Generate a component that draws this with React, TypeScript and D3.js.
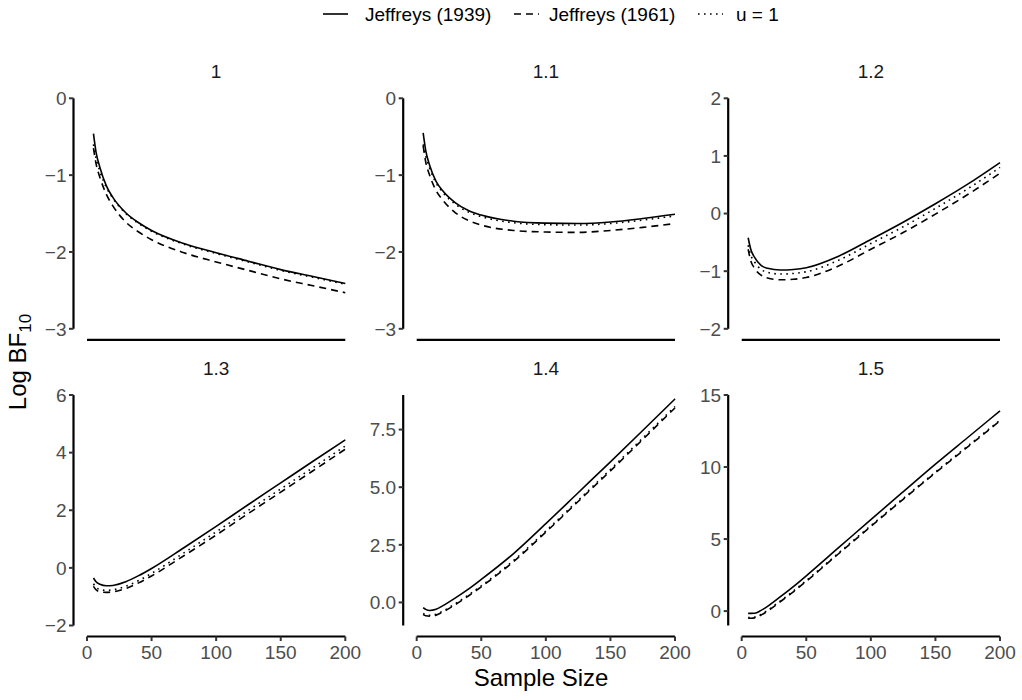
import React from 'react';
import * as d3 from 'd3';

// ---------------- data ----------------
const sampleSizes = [5, 7, 10, 15, 20, 30, 40, 50, 75, 100, 125, 150, 175, 200];
const panelLabels = ['1', '1.1', '1.2', '1.3', '1.4', '1.5'];
const seriesNames = ['Jeffreys (1939)', 'Jeffreys (1961)', 'u = 1'];

const jeffreys1939_p1 = [-0.46, -0.7, -0.9, -1.14, -1.29, -1.49, -1.62, -1.72, -1.89, -2.01, -2.12, -2.23, -2.32, -2.41];
const jeffreys1961_p1 = [-0.65, -0.85, -1.03, -1.25, -1.4, -1.61, -1.74, -1.84, -2.01, -2.13, -2.24, -2.35, -2.44, -2.53];
const u1_p1 = [-0.6, -0.78, -0.95, -1.16, -1.3, -1.5, -1.63, -1.73, -1.9, -2.02, -2.13, -2.24, -2.33, -2.42];

const jeffreys1939_p11 = [-0.45, -0.68, -0.87, -1.08, -1.2, -1.36, -1.46, -1.52, -1.6, -1.625, -1.63, -1.61, -1.565, -1.51];
const jeffreys1961_p11 = [-0.62, -0.83, -1.0, -1.2, -1.32, -1.49, -1.59, -1.65, -1.72, -1.74, -1.745, -1.72, -1.68, -1.63];
const u1_p11 = [-0.6, -0.75, -0.91, -1.1, -1.22, -1.38, -1.48, -1.54, -1.62, -1.645, -1.65, -1.63, -1.585, -1.53];

const jeffreys1939_p12 = [-0.42, -0.62, -0.76, -0.9, -0.95, -0.98, -0.97, -0.94, -0.74, -0.45, -0.15, 0.17, 0.51, 0.885];
const jeffreys1961_p12 = [-0.62, -0.82, -0.95, -1.07, -1.12, -1.15, -1.14, -1.11, -0.91, -0.62, -0.33, -0.01, 0.33, 0.7];
const u1_p12 = [-0.55, -0.72, -0.84, -0.97, -1.02, -1.05, -1.04, -1.01, -0.81, -0.52, -0.23, 0.09, 0.43, 0.8];

const jeffreys1939_p13 = [-0.35, -0.48, -0.57, -0.62, -0.61, -0.48, -0.27, -0.02, 0.7, 1.44, 2.2, 2.95, 3.7, 4.44];
const jeffreys1961_p13 = [-0.64, -0.76, -0.83, -0.85, -0.83, -0.72, -0.52, -0.28, 0.42, 1.14, 1.89, 2.63, 3.37, 4.12];
const u1_p13 = [-0.55, -0.68, -0.75, -0.78, -0.76, -0.64, -0.44, -0.19, 0.52, 1.25, 2.0, 2.74, 3.48, 4.23];

const jeffreys1939_p14 = [-0.22, -0.3, -0.35, -0.3, -0.15, 0.2, 0.58, 1.0, 2.12, 3.42, 4.76, 6.1, 7.46, 8.83];
const jeffreys1961_p14 = [-0.53, -0.58, -0.6, -0.55, -0.42, -0.09, 0.28, 0.68, 1.77, 3.05, 4.38, 5.71, 7.07, 8.44];
const u1_p14 = [-0.48, -0.54, -0.56, -0.51, -0.38, -0.05, 0.32, 0.72, 1.82, 3.1, 4.43, 5.77, 7.13, 8.5];

const jeffreys1939_p15 = [-0.16, -0.16, -0.15, 0.05, 0.33, 1.0, 1.7, 2.45, 4.4, 6.35, 8.28, 10.2, 12.05, 13.9];
const jeffreys1961_p15 = [-0.5, -0.5, -0.47, -0.28, 0.0, 0.66, 1.34, 2.07, 3.98, 5.88, 7.76, 9.6, 11.4, 13.2];
const u1_p15 = [-0.45, -0.45, -0.42, -0.23, 0.05, 0.71, 1.39, 2.12, 4.03, 5.93, 7.81, 9.65, 11.45, 13.25];

const yDomains: [number, number][] = [[-3, 0], [-3, 0], [-2, 2], [-2, 6], [-1, 9], [-1, 15]];
const yTicks = [[-3, -2, -1, 0], [-3, -2, -1, 0], [-2, -1, 0, 1, 2], [-2, 0, 2, 4, 6], [0, 2.5, 5, 7.5], [0, 5, 10, 15]];
const yTickFormats = ['d', 'd', 'd', 'd', '.1f', 'd'];
const xTicks = [0, 50, 100, 150, 200];

const panelSeries = [
  [jeffreys1939_p1, jeffreys1961_p1, u1_p1],
  [jeffreys1939_p11, jeffreys1961_p11, u1_p11],
  [jeffreys1939_p12, jeffreys1961_p12, u1_p12],
  [jeffreys1939_p13, jeffreys1961_p13, u1_p13],
  [jeffreys1939_p14, jeffreys1961_p14, u1_p14],
  [jeffreys1939_p15, jeffreys1961_p15, u1_p15],
];

// ---------------- layout ----------------
const W = 1022;
const H = 700;
const colX = [87, 416.7, 741.7];
const panelW = 258.3;
const rowY = [98.3, 395];
const panelH = 230.5;
const yAxisGap = 13.5;
const xAxisGap = 11;
const dashes = ['none', '7 5', '1.6 4.4'];
const FONT = '"Liberation Sans", Arial, Helvetica, sans-serif';
const LW = 1.6;
const SMALL = 19;
const BIG = 24;

function Panel({ idx }: { idx: number }) {
  const col = idx % 3;
  const row = Math.floor(idx / 3);
  const x0 = colX[col];
  const y0 = rowY[row];
  const x = d3.scaleLinear().domain([0, 200]).range([x0, x0 + panelW]);
  const y = d3.scaleLinear().domain(yDomains[idx]).range([y0 + panelH, y0]);
  const fmt = d3.format(yTickFormats[idx]);
  const line = d3
    .line<[number, number]>()
    .x((d) => x(d[0]))
    .y((d) => y(d[1]))
    .curve(d3.curveMonotoneX);
  const axX = x0 - yAxisGap;
  const axY = y0 + panelH + xAxisGap;
  return (
    <g>
      <text x={(x0 + x0 + panelW) / 2} y={y0 - 20.5} textAnchor="middle" fontSize={SMALL} fill="#1a1a1a" fontFamily={FONT}>
        {panelLabels[idx]}
      </text>
      {/* y axis */}
      <line x1={axX} x2={axX} y1={y(yDomains[idx][0])} y2={y(yDomains[idx][1])} stroke="#000" strokeWidth={2.2} />
      {yTicks[idx].map((t) => (
        <g key={t}>
          <line x1={axX - 4.5} x2={axX} y1={y(t)} y2={y(t)} stroke="#333" strokeWidth={2} />
          <text x={axX - 7} y={y(t)} dy="0.36em" textAnchor="end" fontSize={SMALL} fill="#4d4d4d" fontFamily={FONT}>
            {fmt(t)}
          </text>
        </g>
      ))}
      {/* x axis */}
      <line x1={x(0)} x2={x(200)} y1={axY} y2={axY} stroke="#000" strokeWidth={2.2} />
      {row === 1 &&
        xTicks.map((t) => (
          <g key={t}>
            <line x1={x(t)} x2={x(t)} y1={axY} y2={axY + 4.5} stroke="#333" strokeWidth={2} />
            <text x={x(t)} y={axY + 22.5} textAnchor="middle" fontSize={SMALL} fill="#4d4d4d" fontFamily={FONT}>
              {t}
            </text>
          </g>
        ))}
      {panelSeries[idx].map((vals, s) => (
        <path
          key={s}
          d={line(sampleSizes.map((n, i) => [n, vals[i]] as [number, number])) || ''}
          fill="none"
          stroke="#000"
          strokeWidth={LW}
          strokeDasharray={dashes[s]}
        />
      ))}
    </g>
  );
}

function Legend() {
  const items = [
    { lx: 323, tx: 365 },
    { lx: 514, tx: 549 },
    { lx: 698, tx: 736 },
  ];
  return (
    <g>
      {items.map((it, s) => (
        <g key={s}>
          <line x1={it.lx} x2={it.lx + 25} y1={14} y2={14} stroke="#000" strokeWidth={LW} strokeDasharray={dashes[s]} />
          <text x={it.tx} y={20.5} fontSize={SMALL} fill="#000" fontFamily={FONT}>
            {seriesNames[s]}
          </text>
        </g>
      ))}
    </g>
  );
}

export default function App() {
  return (
    <svg width={W} height={H} style={{ position: 'absolute', left: 0, top: 0, background: '#fff' }}>
      <rect width={W} height={H} fill="#fff" />
      <Legend />
      {panelLabels.map((_, i) => (
        <Panel key={i} idx={i} />
      ))}
      <text x={541} y={686} textAnchor="middle" fontSize={BIG} fill="#000" fontFamily={FONT}>
        Sample Size
      </text>
      <text transform="translate(26,362) rotate(-90)" textAnchor="middle" fontSize={BIG} fill="#000" fontFamily={FONT}>
        Log BF<tspan dy="5" fontSize={17}>10</tspan>
      </text>
    </svg>
  );
}
